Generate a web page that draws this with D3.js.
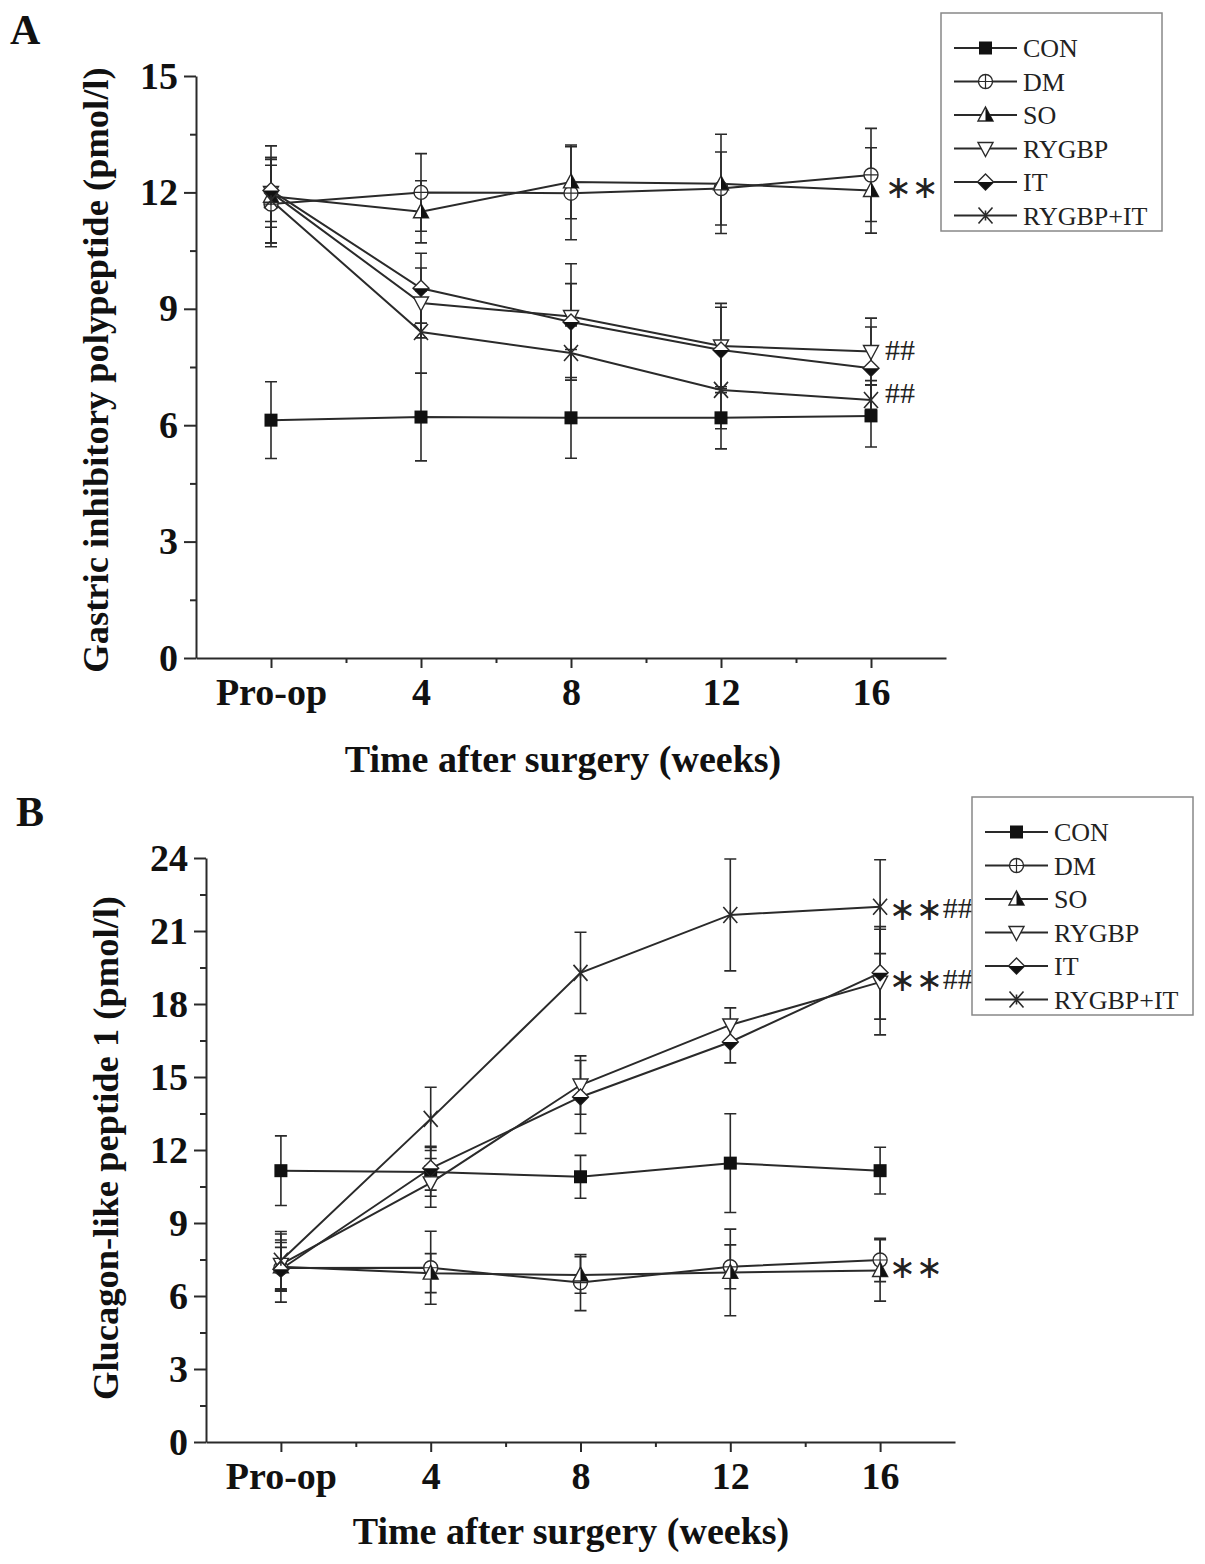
<!DOCTYPE html>
<html>
<head>
<meta charset="utf-8">
<script src="https://cdn.jsdelivr.net/npm/d3@7"></script>
<style>
  body { margin: 0; background: #fff; }
  svg { display: block; font-family: "Liberation Serif", "Times New Roman", serif; }
</style>
</head>
<body>
<svg width="1205" height="1564"></svg>
<script>
// categories
var timeLabels = ["Pro-op", "4", "8", "12", "16"];
var groups = ["CON", "DM", "SO", "RYGBP", "IT", "RYGBP+IT"];

// panel A: gastric inhibitory polypeptide (mean, sd)
var gipCON = [6.13, 6.21, 6.19, 6.19, 6.24];
var gipCONsd = [0.99, 1.13, 1.04, 0.8, 0.8];
var gipDM = [11.7, 12.0, 11.98, 12.1, 12.45];
var gipDMsd = [1.0, 1.0, 1.2, 0.94, 1.2];
var gipSO = [11.9, 11.5, 12.27, 12.22, 12.05];
var gipSOsd = [1.3, 0.8, 0.95, 1.28, 1.1];
var gipRYGBP = [12.0, 9.15, 8.8, 8.04, 7.9];
var gipRYGBPsd = [0.9, 0.9, 0.85, 1.1, 0.86];
var gipIT = [12.05, 9.53, 8.66, 7.94, 7.47];
var gipITsd = [0.8, 0.9, 1.5, 1.1, 1.06];
var gipRYGBPIT = [11.8, 8.4, 7.86, 6.91, 6.65];
var gipRYGBPITsd = [1.1, 1.06, 0.7, 1.0, 0.5];

// panel B: glucagon-like peptide 1 (mean, sd)
var glpCON = [11.15, 11.1, 10.9, 11.46, 11.15];
var glpCONsd = [1.43, 1.0, 0.88, 2.03, 0.96];
var glpDM = [7.15, 7.16, 6.55, 7.2, 7.48];
var glpDMsd = [1.4, 1.5, 1.15, 0.9, 0.89];
var glpSO = [7.2, 6.94, 6.86, 6.97, 7.05];
var glpSOsd = [1.0, 0.8, 0.75, 1.78, 1.26];
var glpRYGBP = [7.3, 10.65, 14.67, 17.14, 18.9];
var glpRYGBPsd = [1.0, 1.0, 1.2, 0.7, 2.17];
var glpIT = [7.1, 11.25, 14.18, 16.44, 19.28];
var glpITsd = [0.9, 0.9, 1.5, 0.86, 1.9];
var glpRYGBPIT = [7.45, 13.28, 19.28, 21.66, 22.0];
var glpRYGBPITsd = [1.2, 1.3, 1.67, 2.3, 1.93];

// significance marks: [time index, value, label]
var gipMarks = [[4, 12.2, "**"], [4, 7.95, "##"], [4, 6.85, "##"]];
var glpMarks = [[4, 22.0, "**##"], [4, 19.1, "**##"], [4, 7.3, "**"]];

var svg = d3.select("svg");
var INK = "#2a2a2a";

// marker shapes, one per group
function drawMarker(g, name) {
    if (name == "CON") {
        g.append("rect").attr("x", -6.5).attr("y", -6.5).attr("width", 13).attr("height", 13)
            .attr("fill", "#111");
    } else if (name == "DM") {
        g.append("circle").attr("r", 7).attr("fill", "#fff").attr("stroke", INK).attr("stroke-width", 1.4);
        g.append("path").attr("d", "M-7,0H7M0,-7V7").attr("stroke", INK).attr("stroke-width", 1.2);
    } else if (name == "SO") {
        g.append("path").attr("d", "M0,-8L7.5,6L-7.5,6Z").attr("fill", "#fff").attr("stroke", INK).attr("stroke-width", 1.4);
        g.append("path").attr("d", "M0,-8L7.5,6L0,6Z").attr("fill", "#111");
    } else if (name == "RYGBP") {
        g.append("path").attr("d", "M0,8L7.5,-6L-7.5,-6Z").attr("fill", "#fff").attr("stroke", INK).attr("stroke-width", 1.4);
    } else if (name == "IT") {
        g.append("path").attr("d", "M0,-8L8,0L0,8L-8,0Z").attr("fill", "#fff").attr("stroke", INK).attr("stroke-width", 1.4);
        g.append("path").attr("d", "M-8,0L8,0L0,8Z").attr("fill", "#111");
    } else {
        g.append("path").attr("d", "M-7,-8L7,8M7,-8L-7,8M0,-5V5").attr("stroke", INK).attr("stroke-width", 1.6)
            .attr("fill", "none");
    }
}

function drawPanel(p) {
    var x = d3.scaleLinear().domain([-0.5, 4.5]).range([p.left, p.right]);
    var y = d3.scaleLinear().domain([0, p.ymax]).range([p.bottom, p.top]);
    var g = svg.append("g");

    // y axis, major + minor ticks
    var yMinor = d3.range(1.5, p.ymax, 3);
    g.append("g").attr("transform", "translate(" + p.left + ",0)")
        .call(d3.axisLeft(y).tickValues(yMinor).tickSize(6).tickFormat(""))
        .call(function (a) { a.select(".domain").remove(); });
    g.append("g").attr("transform", "translate(" + p.left + ",0)")
        .call(d3.axisLeft(y).tickValues(d3.range(0, p.ymax + 1, 3)).tickSize(12).tickSizeOuter(0).tickPadding(6));

    // x axis
    g.append("g").attr("transform", "translate(0," + p.bottom + ")")
        .call(d3.axisBottom(x).tickValues([0.5, 1.5, 2.5, 3.5]).tickSize(5).tickFormat(""))
        .call(function (a) { a.select(".domain").remove(); });
    g.append("g").attr("transform", "translate(0," + p.bottom + ")")
        .call(d3.axisBottom(x).tickValues([0, 1, 2, 3, 4]).tickSize(10).tickSizeOuter(0).tickPadding(10)
            .tickFormat(function (d) { return timeLabels[d]; }));

    g.selectAll(".domain, .tick line").attr("stroke", INK).attr("stroke-width", 2);
    g.selectAll(".tick text").attr("fill", "#111").attr("font-family", "Liberation Serif, serif")
        .attr("font-weight", "bold").attr("font-size", 38);

    // axis titles
    g.append("text").attr("x", p.xTitleMid).attr("y", p.xTitleY)
        .attr("text-anchor", "middle").attr("font-weight", "bold").attr("font-size", 38).attr("fill", "#111")
        .text("Time after surgery (weeks)");
    g.append("text").attr("transform", "translate(" + p.yTitleX + "," + p.yTitleMid + ") rotate(-90)")
        .attr("text-anchor", "middle").attr("font-weight", "bold").attr("font-size", 36.5).attr("fill", "#111")
        .text(p.yTitle);
    g.append("text").attr("x", p.letterX).attr("y", p.letterY).attr("font-weight", "bold")
        .attr("font-size", 42).attr("fill", "#111").text(p.letter);

    var line = d3.line().x(function (d, i) { return x(i); }).y(function (d) { return y(d); });

    // error bars
    p.series.forEach(function (s) {
        s.mean.forEach(function (m, i) {
            var cx = x(i), y1 = y(m + s.sd[i]), y2 = y(m - s.sd[i]);
            g.append("path")
                .attr("d", "M" + cx + "," + y1 + "V" + y2 + "M" + (cx - 6) + "," + y1 + "H" + (cx + 6) +
                    "M" + (cx - 6) + "," + y2 + "H" + (cx + 6))
                .attr("stroke", INK).attr("stroke-width", 1.6).attr("fill", "none");
        });
    });
    // lines
    p.series.forEach(function (s) {
        g.append("path").datum(s.mean).attr("d", line)
            .attr("fill", "none").attr("stroke", INK).attr("stroke-width", 2);
    });
    // markers
    p.series.forEach(function (s) {
        s.mean.forEach(function (m, i) {
            drawMarker(g.append("g").attr("transform", "translate(" + x(i) + "," + y(m) + ")"), s.name);
        });
    });

    // significance marks
    p.marks.forEach(function (mk) {
        var stars = mk[2].replace(/#/g, ""), hashes = mk[2].replace(/\*/g, "");
        var t = g.append("text").attr("x", x(mk[0]) + (stars ? p.markGap : 14)).attr("y", y(mk[1]))
            .attr("fill", "#222");
        if (stars) t.append("tspan").attr("font-size", 32).attr("font-family", "DejaVu Sans, sans-serif")
            .attr("dy", "0.42em").text(stars.replace(/\*/g, "\u2217"));
        if (hashes) t.append("tspan").attr("font-size", 30)
            .attr("dy", stars ? "-0.06em" : "0.36em").text(hashes);
    });

    // legend
    var lg = svg.append("g").attr("transform", "translate(" + p.legX + "," + p.legY + ")");
    lg.append("rect").attr("width", 221).attr("height", 218).attr("fill", "#fff")
        .attr("stroke", "#888").attr("stroke-width", 1.5);
    groups.forEach(function (name, k) {
        var ry = 35 + k * 33.5;
        lg.append("line").attr("x1", 13).attr("x2", 76).attr("y1", ry).attr("y2", ry)
            .attr("stroke", INK).attr("stroke-width", 2);
        drawMarker(lg.append("g").attr("transform", "translate(44.5," + ry + ")"), name);
        lg.append("text").attr("x", 82).attr("y", ry).attr("dy", "0.35em").attr("font-size", 26)
            .attr("fill", "#222").text(name);
    });
}

drawPanel({
    letter: "A", letterX: 10, letterY: 44,
    left: 196, right: 946, top: 76, bottom: 658, ymax: 15,
    xTitleY: 772, xTitleMid: 563, yTitleX: 108, yTitleMid: 370,
    yTitle: "Gastric inhibitory polypeptide (pmol/l)",
    legX: 941, legY: 13, markGap: 14,
    marks: gipMarks,
    series: [
        { name: "CON", mean: gipCON, sd: gipCONsd },
        { name: "DM", mean: gipDM, sd: gipDMsd },
        { name: "SO", mean: gipSO, sd: gipSOsd },
        { name: "RYGBP", mean: gipRYGBP, sd: gipRYGBPsd },
        { name: "IT", mean: gipIT, sd: gipITsd },
        { name: "RYGBP+IT", mean: gipRYGBPIT, sd: gipRYGBPITsd }
    ]
});

drawPanel({
    letter: "B", letterX: 16, letterY: 826,
    left: 206, right: 955, top: 858, bottom: 1442, ymax: 24,
    xTitleY: 1544, xTitleMid: 571, yTitleX: 118, yTitleMid: 1148,
    yTitle: "Glucagon-like peptide 1 (pmol/l)",
    legX: 972, legY: 797, markGap: 9,
    marks: glpMarks,
    series: [
        { name: "CON", mean: glpCON, sd: glpCONsd },
        { name: "DM", mean: glpDM, sd: glpDMsd },
        { name: "SO", mean: glpSO, sd: glpSOsd },
        { name: "RYGBP", mean: glpRYGBP, sd: glpRYGBPsd },
        { name: "IT", mean: glpIT, sd: glpITsd },
        { name: "RYGBP+IT", mean: glpRYGBPIT, sd: glpRYGBPITsd }
    ]
});
</script>
</body>
</html>
